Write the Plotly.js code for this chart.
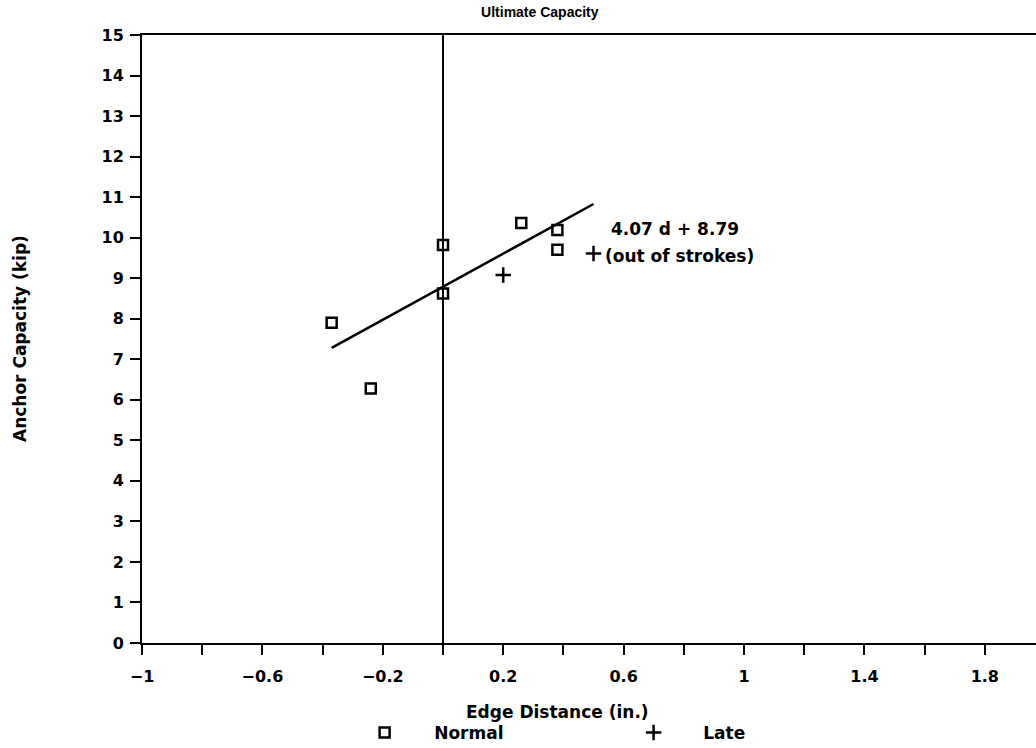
<!DOCTYPE html>
<html>
<head>
<meta charset="utf-8">
<script src="https://cdn.plot.ly/plotly-3.0.1.min.js"></script>
<style>html,body{margin:0;padding:0;background:#fff;}#chart{width:1036px;height:748px;}</style>
</head>
<body>
<div id="chart"></div>
<script>
// Data
const normalX = [-0.37, -0.24, 0.0, 0.0, 0.26, 0.38, 0.38];
const normalY = [7.9, 6.28, 9.82, 8.62, 10.36, 10.19, 9.70];
const lateX = [0.2, 0.5];
const lateY = [9.08, 9.61];
const fitX = [-0.37, 0.5];
const fitY = [7.28, 10.83];
const fitLabel = "4.07 d + 8.79";
const lateNote = "(out of strokes)";
const xTickVals = [-1, -0.8, -0.6, -0.4, -0.2, 0, 0.2, 0.4, 0.6, 0.8, 1, 1.2, 1.4, 1.6, 1.8];
const xTickText = ["\u22121", "", "\u22120.6", "", "\u22120.2", "", "0.2", "", "0.6", "", "1", "", "1.4", "", "1.8"];
const yTickVals = [0,1,2,3,4,5,6,7,8,9,10,11,12,13,14,15];

const FONT = "DejaVu Sans";
const tickFont = {family: FONT, size: 16, color: "#000", weight: "bold"};
const textFont = {family: FONT, size: 17, color: "#000", weight: "bold"};
const pad = "\u00a0\u00a0\u00a0\u00a0\u00a0";

const traces = [
  {x: fitX, y: fitY, mode: "lines", line: {color: "#000", width: 2.5}, showlegend: false, hoverinfo: "skip"},
  {x: normalX, y: normalY, mode: "markers", name: pad + "Normal",
   marker: {symbol: "square-open", size: 10, color: "#000", line: {width: 2.5, color: "#000"}}},
  {x: lateX, y: lateY, mode: "markers", name: pad + "Late",
   marker: {symbol: "cross-thin-open", size: 11, color: "#000", line: {width: 2.5, color: "#000"}}}
];

const layout = {
  width: 1036, height: 748,
  paper_bgcolor: "#fff", plot_bgcolor: "#fff",
  margin: {l: 142, r: 0, t: 35, b: 105, autoexpand: false},
  showlegend: true,
  legend: {orientation: "h", x: 0.249, xanchor: "left", y: -0.148, yanchor: "middle",
           font: textFont, entrywidth: 224, bgcolor: "rgba(0,0,0,0)"},
  title: {text: "Ultimate Capacity", x: 0.445, xref: "paper", xanchor: "center",
          y: 0.984, yref: "container", yanchor: "middle",
          font: {family: "Liberation Sans", size: 14, color: "#000", weight: "bold"}},
  xaxis: {range: [-1, 1.97], tickmode: "array", tickvals: xTickVals, ticktext: xTickText,
          ticks: "outside", ticklen: 10, tickwidth: 2, tickcolor: "#000", ticklabelstandoff: 8,
          showline: true, linewidth: 2, linecolor: "#000", mirror: true, automargin: false,
          showgrid: false, zeroline: false, tickfont: tickFont, fixedrange: true},
  yaxis: {range: [0, 15], tickmode: "array", tickvals: yTickVals,
          ticks: "outside", ticklen: 10, tickwidth: 2, tickcolor: "#000", ticklabelstandoff: 3,
          showline: true, linewidth: 2, linecolor: "#000", mirror: false, automargin: false,
          showgrid: false, zeroline: false, tickfont: tickFont, fixedrange: true},
  shapes: [
    {type: "line", xref: "x", yref: "paper", x0: 0, x1: 0, y0: 0, y1: 1, line: {color: "#000", width: 2}}
  ],
  annotations: [
    {text: fitLabel, xref: "x", yref: "y", x: 0.55, y: 10.21, xanchor: "left", yanchor: "middle",
     showarrow: false, font: textFont},
    {text: lateNote, xref: "x", yref: "y", x: 0.53, y: 9.55, xanchor: "left", yanchor: "middle",
     showarrow: false, font: textFont},
    {text: "Edge Distance (in.)", xref: "paper", yref: "paper", x: (557 - 142) / 894, y: (643 - 712) / 608,
     xanchor: "center", yanchor: "middle", showarrow: false, font: textFont},
    {text: "Anchor Capacity (kip)", xref: "paper", yref: "paper", x: (20 - 142) / 894, y: 0.5,
     xanchor: "center", yanchor: "middle", textangle: -90, showarrow: false, font: textFont}
  ]
};

Plotly.newPlot("chart", traces, layout, {staticPlot: true, displayModeBar: false});
</script>
</body>
</html>
